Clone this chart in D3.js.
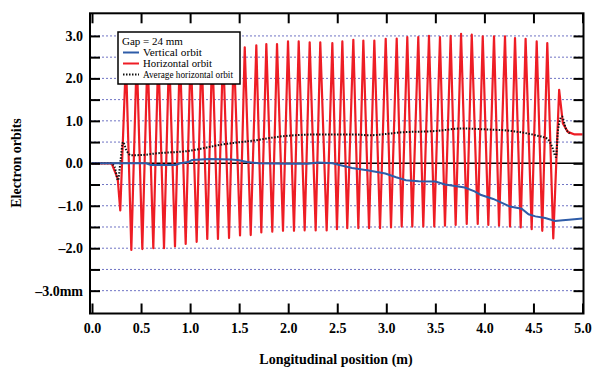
<!DOCTYPE html>
<html>
<head>
<meta charset="utf-8">
<script src="https://cdn.jsdelivr.net/npm/d3@7"></script>
<style>
  body { margin: 0; background: #fff; }
  svg text { font-family: "Liberation Serif", "Times New Roman", serif; }
</style>
</head>
<body>
<div id="chart"></div>
<script>
// values (x in m, y in mm)
var xTickValues = [0, 0.5, 1, 1.5, 2, 2.5, 3, 3.5, 4, 4.5, 5];
var xTickLabels = ["0.0", "0.5", "1.0", "1.5", "2.0", "2.5", "3.0", "3.5", "4.0", "4.5", "5.0"];
var yTickValues = [-3, -2.5, -2, -1.5, -1, -0.5, 0, 0.5, 1, 1.5, 2, 2.5, 3];
var yTickLabels = ["\u20133.0mm", "", "\u20132.0", "", "\u20131.0", "", "0.0", "", "1.0", "", "2.0", "", "3.0"];
var gridValues = [-3, -2.5, -2, -1.5, -1, -0.5, 0.5, 1, 1.5, 2, 2.5, 3];

var legendLabels = ["Vertical orbit", "Horizontal orbit", "Average horizontal orbit"];

var horizontalOrbit = [
  [0, 0], [0.20, 0], [0.262, -0.36], [0.288, -1.11],
  [0.346, 2.45], [0.401, -2.04], [0.456, 2.55], [0.513, -2.02],
  [0.566, 2.60], [0.625, -2.00], [0.676, 2.62], [0.734, -2.00],
  [0.786, 2.64], [0.846, -1.96], [0.896, 2.66], [0.955, -1.90],
  [1.006, 2.68], [1.067, -1.85], [1.116, 2.69], [1.175, -1.78],
  [1.226, 2.70], [1.284, -1.78], [1.336, 2.71], [1.397, -1.76],
  [1.446, 2.72], [1.509, -1.70], [1.557, 2.73], [1.618, -1.69],
  [1.675, 2.78], [1.726, -1.63], [1.777, 2.81], [1.838, -1.61],
  [1.886, 2.81], [1.947, -1.59], [1.998, 2.87], [2.059, -1.59],
  [2.107, 2.87], [2.168, -1.58], [2.219, 2.85], [2.280, -1.58],
  [2.327, 2.85], [2.392, -1.58], [2.450, 2.83], [2.497, -1.55],
  [2.552, 2.87], [2.602, -1.53], [2.664, 2.91], [2.715, -1.53],
  [2.766, 2.89], [2.824, -1.53], [2.878, 2.89], [2.936, -1.53],
  [2.994, 2.93], [3.048, -1.51], [3.106, 2.94], [3.157, -1.49],
  [3.214, 2.97], [3.265, -1.49], [3.326, 2.97], [3.377, -1.49],
  [3.435, 3.00], [3.489, -1.49], [3.547, 2.97], [3.598, -1.47],
  [3.656, 3.00], [3.707, -1.45], [3.762, 3.05], [3.820, -1.43],
  [3.871, 3.03], [3.932, -1.43], [3.983, 2.99], [4.040, -1.45],
  [4.098, 2.99], [4.149, -1.47], [4.210, 2.99], [4.261, -1.49],
  [4.312, 2.95], [4.370, -1.51], [4.420, 2.93], [4.482, -1.55],
  [4.533, 2.87], [4.590, -1.59], [4.641, 2.83], [4.702, -1.77],
  [4.762, 1.73], [4.80, 0.94], [4.85, 0.74], [4.92, 0.68], [5.0, 0.68]
];

var averageOrbit = [
  [0, 0], [0.19, 0], [0.23, -0.08], [0.265, -0.40], [0.29, 0.05],
  [0.316, 0.50], [0.35, 0.31], [0.40, 0.19], [0.54, 0.20], [0.64, 0.23],
  [0.98, 0.29], [1.32, 0.44], [1.66, 0.54], [2.0, 0.65], [2.34, 0.68],
  [2.49, 0.68], [2.68, 0.68], [2.82, 0.66], [3.16, 0.73], [3.5, 0.76],
  [3.77, 0.82], [4.0, 0.80], [4.28, 0.76], [4.52, 0.66], [4.64, 0.58],
  [4.69, 0.39], [4.73, 0.15], [4.75, 0.78], [4.79, 1.10], [4.83, 0.82],
  [4.87, 0.70]
];

var verticalOrbit = [
  [0, 0], [0.55, 0], [0.60, -0.04], [0.85, -0.04], [0.90, 0], [0.98, 0.03],
  [1.02, 0.08], [1.20, 0.10], [1.42, 0.09], [1.50, 0.07], [1.58, 0.03],
  [1.70, 0], [2.0, -0.01], [2.2, -0.01], [2.3, 0.02], [2.45, 0],
  [2.65, -0.11], [2.82, -0.17], [2.99, -0.24], [3.10, -0.33], [3.20, -0.40],
  [3.33, -0.42], [3.50, -0.43], [3.60, -0.50], [3.80, -0.57], [3.90, -0.66],
  [3.96, -0.74], [4.09, -0.84], [4.26, -1.02], [4.38, -1.07], [4.45, -1.20],
  [4.52, -1.25], [4.62, -1.29], [4.72, -1.36], [4.80, -1.34], [4.86, -1.33],
  [5.0, -1.30]
];

var W = 594, H = 367;
var frame = { left: 90, right: 583.5, top: 13.3, bottom: 313.5 };

var svg = d3.select("#chart")
  .append("svg")
  .attr("width", W)
  .attr("height", H);

var x = d3.scaleLinear().domain([0, 5]).range([92, 582.5]);
var y = d3.scaleLinear().domain([-3.5, 3.5]).range([311.9, 14.7]);

// dotted grid
svg.append("g")
  .selectAll("line")
  .data(gridValues)
  .enter()
  .append("line")
    .attr("x1", frame.left)
    .attr("x2", frame.right)
    .attr("y1", function(d) { return y(d); })
    .attr("y2", function(d) { return y(d); })
    .attr("stroke", "#6f73c4")
    .attr("stroke-width", 1)
    .attr("stroke-dasharray", "2,2");

// zero line
svg.append("line")
  .attr("x1", frame.left)
  .attr("x2", frame.right)
  .attr("y1", y(0))
  .attr("y2", y(0))
  .attr("stroke", "#000")
  .attr("stroke-width", 1.6);

svg.append("clipPath").attr("id", "clip")
  .append("rect")
    .attr("x", frame.left).attr("y", frame.top)
    .attr("width", frame.right - frame.left)
    .attr("height", frame.bottom - frame.top);

var line = d3.line()
  .x(function(d) { return x(d[0]); })
  .y(function(d) { return y(d[1]); });

var plot = svg.append("g").attr("clip-path", "url(#clip)");

plot.append("path")
  .datum(horizontalOrbit)
  .attr("d", line)
  .attr("fill", "none")
  .attr("stroke", "#ee1d25")
  .attr("stroke-width", 2.2)
  .attr("stroke-linejoin", "round");

plot.append("path")
  .datum(averageOrbit)
  .attr("d", line.curve(d3.curveMonotoneX))
  .attr("fill", "none")
  .attr("stroke", "#111")
  .attr("stroke-width", 2)
  .attr("stroke-dasharray", "1.5,1.5");

plot.append("path")
  .datum(verticalOrbit)
  .attr("d", line.curve(d3.curveLinear))
  .attr("fill", "none")
  .attr("stroke", "#2e5ca8")
  .attr("stroke-width", 2);

// axes with inward ticks
svg.append("g")
  .attr("class", "axis")
  .attr("transform", "translate(0," + frame.bottom + ")")
  .call(d3.axisBottom(x).tickValues(xTickValues).tickSize(-10).tickPadding(10)
    .tickFormat(function(d, i) { return xTickLabels[i]; }));

svg.append("g")
  .attr("class", "axis")
  .attr("transform", "translate(0," + frame.top + ")")
  .call(d3.axisTop(x).tickValues(xTickValues).tickSize(-10).tickFormat(""));

svg.append("g")
  .attr("class", "axis")
  .attr("transform", "translate(" + frame.left + ",0)")
  .call(d3.axisLeft(y).tickValues(yTickValues).tickSize(-10).tickPadding(7)
    .tickFormat(function(d, i) { return yTickLabels[i]; }));

svg.append("g")
  .attr("class", "axis")
  .attr("transform", "translate(" + frame.right + ",0)")
  .call(d3.axisRight(y).tickValues(yTickValues).tickSize(-10).tickFormat(""));

svg.selectAll(".axis .domain").remove();
svg.selectAll(".axis line").attr("stroke", "#000").attr("stroke-width", 2);
svg.selectAll(".axis text")
  .style("font-family", "'Liberation Serif', serif")
  .style("font-size", "14px")
  .style("font-weight", "bold")
  .attr("fill", "#000");

// frame
svg.append("rect")
  .attr("x", frame.left)
  .attr("y", frame.top)
  .attr("width", frame.right - frame.left)
  .attr("height", frame.bottom - frame.top)
  .attr("fill", "none")
  .attr("stroke", "#000")
  .attr("stroke-width", 2);

// axis titles
svg.append("text")
  .attr("x", 336)
  .attr("y", 364)
  .attr("text-anchor", "middle")
  .style("font-size", "14px")
  .style("font-weight", "bold")
  .text("Longitudinal position (m)");

svg.append("text")
  .attr("transform", "translate(21,163) rotate(-90)")
  .attr("text-anchor", "middle")
  .style("font-size", "14px")
  .style("font-weight", "bold")
  .text("Electron orbits");

// legend
var lg = svg.append("g").attr("transform", "translate(118,32)");
lg.append("rect")
  .attr("width", 122)
  .attr("height", 52)
  .attr("fill", "#fff")
  .attr("stroke", "#000")
  .attr("stroke-width", 1.5);
lg.append("text")
  .attr("x", 4)
  .attr("y", 13)
  .style("font-size", "11px")
  .text("Gap = 24 mm");

var legendStyles = [
  { color: "#2e5ca8", dash: null, w: 59 },
  { color: "#ee1d25", dash: null, w: 69 },
  { color: "#111", dash: "1.5,1.5", w: 90 }
];
legendLabels.forEach(function(label, i) {
  var yy = 20.5 + i * 11;
  lg.append("line")
    .attr("x1", 5).attr("x2", 21)
    .attr("y1", yy).attr("y2", yy)
    .attr("stroke", legendStyles[i].color)
    .attr("stroke-width", 2)
    .attr("stroke-dasharray", legendStyles[i].dash);
  lg.append("text")
    .attr("x", 25)
    .attr("y", yy + 3.5)
    .attr("textLength", legendStyles[i].w)
    .attr("lengthAdjust", "spacingAndGlyphs")
    .style("font-size", "10.5px")
    .text(label);
});
</script>
</body>
</html>
